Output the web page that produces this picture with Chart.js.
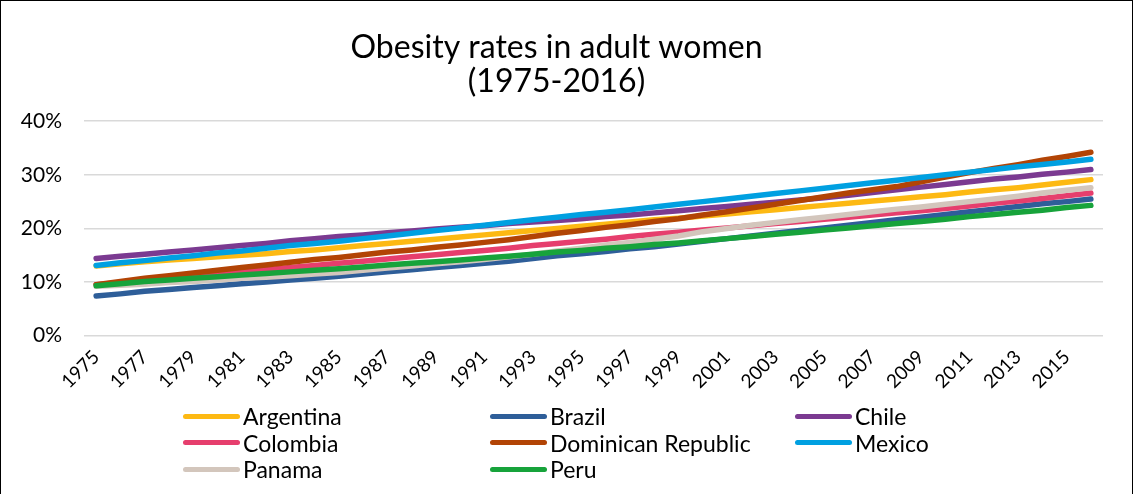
<!DOCTYPE html>
<html>
<head>
<meta charset="utf-8">
<script src="https://cdn.jsdelivr.net/npm/chart.js@4.4.0/dist/chart.umd.min.js"></script>
<style>
  html, body { margin: 0; padding: 0; background: #fff; }
  #wrap { position: relative; width: 1134px; height: 494px; overflow: hidden; }
  #frame { position: absolute; left: 0; top: 0; width: 1133px; height: 540px; border: 1.5px solid #000; box-sizing: border-box; pointer-events: none; }
  #chart { position: absolute; left: 0; top: 0; }
  #legend { position: absolute; left: 183px; top: 403px; display: grid; grid-template-columns: 307px 305px 220px; font-family: Lato, sans-serif; font-size: 23px; color: #000; }
  .item { display: flex; align-items: center; height: 26.5px; white-space: nowrap; }
  .swatch { width: 57px; height: 5px; border-radius: 3px; margin-right: 3px; }
</style>
</head>
<body>
<div id="wrap">
  <canvas id="chart" width="1134" height="494"></canvas>
  <div id="legend"></div>
  <div id="frame"></div>
</div>
<script>
// ---- data (obesity share, %) ----
const years = ["1975","1976","1977","1978","1979","1980","1981","1982","1983","1984",
  "1985","1986","1987","1988","1989","1990","1991","1992","1993","1994",
  "1995","1996","1997","1998","1999","2000","2001","2002","2003","2004",
  "2005","2006","2007","2008","2009","2010","2011","2012","2013","2014","2015","2016"];

const argentina = [13.0,13.4,13.8,14.1,14.4,14.7,15.0,15.3,15.7,16.0,16.4,16.8,17.2,17.6,18.0,18.4,18.8,19.2,19.6,20.0,20.4,20.8,21.2,21.6,21.9,22.3,22.7,23.1,23.5,23.9,24.3,24.7,25.1,25.5,25.9,26.3,26.8,27.2,27.6,28.1,28.6,29.1];
const brazil = [7.4,7.8,8.3,8.6,9.0,9.3,9.7,10.0,10.4,10.7,11.1,11.5,11.9,12.3,12.7,13.1,13.5,13.9,14.4,14.9,15.3,15.7,16.2,16.6,17.1,17.6,18.1,18.6,19.1,19.6,20.1,20.6,21.1,21.6,22.1,22.6,23.1,23.6,24.1,24.6,25.0,25.5];
const chile = [14.4,14.8,15.2,15.6,16.0,16.4,16.8,17.2,17.7,18.1,18.5,18.8,19.2,19.5,19.9,20.2,20.5,20.9,21.2,21.5,21.8,22.2,22.5,22.9,23.3,23.7,24.1,24.5,24.9,25.3,25.7,26.2,26.7,27.2,27.7,28.2,28.7,29.2,29.6,30.1,30.5,31.0];
const colombia = [9.5,9.9,10.3,10.7,11.1,11.5,11.9,12.3,12.7,13.1,13.5,13.9,14.3,14.7,15.1,15.5,15.9,16.3,16.8,17.2,17.6,18.0,18.5,18.9,19.3,19.7,20.1,20.5,20.9,21.3,21.7,22.1,22.5,22.9,23.3,23.7,24.2,24.7,25.1,25.6,26.1,26.6];
const dominicanRep = [9.5,10.1,10.7,11.2,11.7,12.2,12.7,13.2,13.7,14.2,14.6,15.1,15.6,16.0,16.5,16.9,17.4,17.9,18.5,19.1,19.6,20.2,20.7,21.3,21.8,22.5,23.1,23.8,24.5,25.2,25.9,26.6,27.2,27.8,28.7,29.6,30.4,31.2,31.9,32.7,33.4,34.2];
const mexico = [13.1,13.6,14.0,14.5,14.9,15.4,15.8,16.3,16.8,17.2,17.6,18.1,18.6,19.1,19.6,20.1,20.6,21.1,21.6,22.1,22.6,23.0,23.5,24.0,24.5,25.0,25.5,26.0,26.5,27.0,27.5,28.0,28.5,29.0,29.5,30.0,30.5,31.0,31.5,31.9,32.4,32.9];
const panama = [9.2,9.4,9.6,9.9,10.1,10.4,10.7,10.9,11.2,11.5,11.8,12.2,12.6,13.0,13.4,13.8,14.2,14.7,15.2,15.8,16.3,16.9,17.4,18.0,18.6,19.4,20.0,20.6,21.1,21.6,22.1,22.6,23.1,23.6,24.0,24.5,25.0,25.5,26.0,26.6,27.1,27.6];
const peru = [9.3,9.7,10.1,10.4,10.7,11.0,11.3,11.6,11.9,12.2,12.5,12.8,13.2,13.5,13.8,14.1,14.5,14.8,15.2,15.6,15.9,16.3,16.6,17.0,17.3,17.7,18.1,18.5,18.9,19.3,19.7,20.1,20.5,20.9,21.3,21.7,22.2,22.6,23.0,23.4,23.9,24.3];

const countries = ["Argentina","Brazil","Chile","Colombia","Dominican Republic","Mexico","Panama","Peru"];
const seriesValues = [argentina, brazil, chile, colombia, dominicanRep, mexico, panama, peru];
const colors = ["#FDB913","#2E5E99","#7B3A91","#E63E6D","#B24405","#00A0E1","#D3C6BC","#17A33B"];

const FONT = "Lato, sans-serif";

const datasets = countries.map((name, i) => ({
  label: name,
  data: seriesValues[i],
  borderColor: colors[i],
  backgroundColor: colors[i],
  borderWidth: 5.5,
  borderCapStyle: "round",
  borderJoinStyle: "round",
  pointRadius: 0,
  tension: 0,
  fill: false,
  order: countries.length - i   // later series on top, like the original
}));

new Chart(document.getElementById("chart"), {
  type: "line",
  data: { labels: years, datasets },
  options: {
    responsive: false,
    animation: false,
    layout: { padding: { top: 22, right: 31, bottom: 99, left: 10 } },
    plugins: {
      legend: { display: false },
      tooltip: { enabled: false },
      title: {
        display: true,
        text: ["Obesity rates in adult women", "(1975-2016)"],
        color: "#000",
        font: { family: FONT, size: 32, weight: "normal", lineHeight: 1.065 },
        padding: { top: 9, bottom: 22 }
      }
    },
    scales: {
      x: {
        offset: true,
        grid: { display: false },
        border: { display: false },
        ticks: {
          autoSkip: false,
          maxRotation: 45,
          minRotation: 45,
          color: "#000",
          padding: 2,
          font: { family: FONT, size: 19 },
          callback: (v, i) => (i % 2 === 0 ? years[i] : "")
        }
      },
      y: {
        min: 0,
        max: 40,
        afterFit: (scale) => { scale.width = 74; },
        grid: { color: "#d9d9d9", lineWidth: 1.5, drawTicks: false },
        border: { display: false },
        ticks: {
          stepSize: 10,
          padding: 22,
          color: "#000",
          font: { family: FONT, size: 21 },
          callback: (v) => v + "%"
        }
      }
    }
  }
});

// html legend, three columns like the original
const legendEl = document.getElementById("legend");
countries.forEach((name, i) => {
  const item = document.createElement("div");
  item.className = "item";
  item.innerHTML = '<span class="swatch" style="background:' + colors[i] + '"></span><span>' + name + "</span>";
  legendEl.appendChild(item);
});
</script>
</body>
</html>
